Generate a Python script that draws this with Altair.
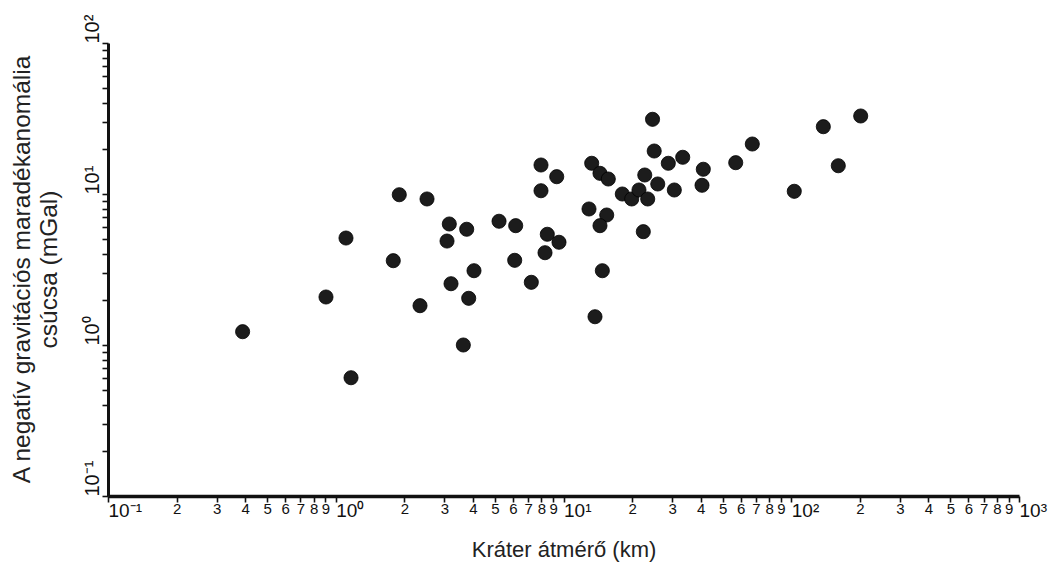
import altair as alt
import pandas as pd

# Crater diameter (km) and peak negative residual gravity anomaly (mGal)
diameters_km = [0.390, 0.906, 1.109, 1.167, 1.901, 1.789, 2.344, 2.516, 3.152, 3.758,
                3.080, 4.046, 3.207, 3.835, 3.632, 5.211, 6.168, 6.106, 7.222, 7.965,
                7.965, 8.489, 8.295, 9.337, 9.555, 13.30, 14.46, 15.73, 12.94, 15.48,
                14.46, 14.81, 13.75, 18.12, 19.93, 21.45, 23.43, 22.41, 24.60, 25.02,
                22.74, 25.93, 28.85, 33.38, 30.66, 41.10, 40.57, 57.04, 67.45, 103.1,
                138.3, 160.9, 201.8]
anomaly_mgal = [1.225, 2.079, 5.11, 0.607, 9.89, 3.617, 1.821, 9.27, 6.33, 5.84,
                4.88, 3.105, 2.546, 2.038, 1.0, 6.60, 6.17, 3.638, 2.601, 15.56,
                10.51, 5.41, 4.085, 13.02, 4.79, 15.97, 13.71, 12.57, 7.957, 7.26,
                6.17, 3.105, 1.539, 10.0, 9.27, 10.63, 9.27, 5.63, 31.23, 19.26,
                13.36, 11.65, 15.97, 17.50, 10.63, 14.58, 11.42, 16.12, 21.43, 10.42,
                27.91, 15.39, 32.86]

x_tick_values = [0.1, 0.2, 0.3, 0.4, 0.5, 0.6, 0.7, 0.8, 0.9,
                 1, 2, 3, 4, 5, 6, 7, 8, 9,
                 10, 20, 30, 40, 50, 60, 70, 80, 90,
                 100, 200, 300, 400, 500, 600, 700, 800, 900, 1000]
x_tick_labels = ["10⁻¹", "2", "3", "4", "5", "6", "7", "8", "9",
                 "10⁰", "2", "3", "4", "5", "6", "7", "8", "9",
                 "10¹", "2", "3", "4", "5", "6", "7", "8", "9",
                 "10²", "2", "3", "4", "5", "6", "7", "8", "9", "10³"]
y_tick_values = [0.1, 0.2, 0.3, 0.4, 0.5, 0.6, 0.7, 0.8, 0.9,
                 1, 2, 3, 4, 5, 6, 7, 8, 9,
                 10, 20, 30, 40, 50, 60, 70, 80, 90, 100]
y_tick_labels = ["10⁻¹", "", "", "", "", "", "", "", "",
                 "10⁰", "", "", "", "", "", "", "", "",
                 "10¹", "", "", "", "", "", "", "", "", "10²"]
decades = [0.1, 1, 10, 100, 1000]

df = pd.DataFrame({"d": diameters_km, "g": anomaly_mgal})


def label_expr(values, labels):
    expr = "''"
    for v, l in reversed(list(zip(values, labels))):
        expr = f"datum.value == {v} ? '{l}' : ({expr})"
    return expr


decade_test = " || ".join(f"datum.value == {v}" for v in decades)

x_axis = alt.Axis(
    values=x_tick_values,
    labelExpr=label_expr(x_tick_values, x_tick_labels),
    grid=False,
    domainColor="#111", domainWidth=3.5,
    tickColor="#111", tickWidth=1.6, tickSize=6,
    labelColor="#111", labelFont="Liberation Sans",
    labelFontSize={"condition": {"test": decade_test, "value": 19}, "value": 15},
    labelAlign={"condition": {"test": decade_test, "value": "left"}, "value": "center"},
    labelBaseline="top", labelPadding=-1, labelFlush=False, labelOverlap=False,
    labelBound=False,
    title="Kráter átmérő (km)", titleFont="Liberation Sans", titleFontSize=22,
    titleFontWeight="normal", titleColor="#222",
    titleY=60, titleBaseline="alphabetic", titleAnchor="middle",
)

y_axis = alt.Axis(
    values=y_tick_values,
    labelExpr=label_expr(y_tick_values, y_tick_labels),
    grid=False,
    domainColor="#111", domainWidth=3,
    tickColor="#111", tickWidth=1.6, tickSize=6,
    labelColor="#111", labelFont="Liberation Sans", labelFontSize=20,
    labelAngle=270, labelAlign="left", labelBaseline="bottom",
    labelPadding=0, labelFlush=False, labelOverlap=False, labelBound=False,
    title=["A negatív gravitációs maradékanomália", "csúcsa (mGal)"],
    titleFont="Liberation Sans", titleFontSize=24.5, titleFontWeight="normal",
    titleColor="#222", titleAngle=270, titleAlign="center",
    titleBaseline="alphabetic", titleLineHeight=27,
    titleX=-79, titleY=226,
)

chart = alt.Chart(df).mark_circle(
    size=200, color="#1c1c1c", opacity=1, stroke="#000", strokeWidth=0.8
).encode(
    x=alt.X("d:Q", scale=alt.Scale(type="log", domain=[0.1, 1000], nice=False), axis=x_axis),
    y=alt.Y("g:Q", scale=alt.Scale(type="log", domain=[0.1, 100], nice=False), axis=y_axis),
).properties(
    width=911, height=453,
    autosize=alt.AutoSizeParams(type="none"),
    padding={"left": 100, "top": 35, "right": 30, "bottom": 66},
    background="white",
).configure_view(stroke=None)

chart.save("out.html", embed_options={"renderer": "svg", "actions": False})
